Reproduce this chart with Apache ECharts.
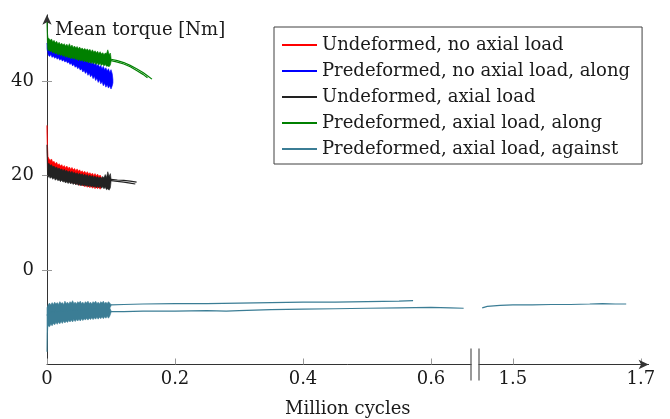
<!DOCTYPE html>
<html><head><meta charset="utf-8">
<script src="https://cdn.jsdelivr.net/npm/echarts@6/dist/echarts.min.js"></script>
<style>html,body{margin:0;padding:0;background:#fff}#c{width:670px;height:419px}</style>
</head><body><div id="c"></div>
<script>
// ---- data (x in million cycles, y in Nm) ----
const seriesNames = [
  'Undeformed, no axial load',
  'Predeformed, no axial load, along',
  'Undeformed, axial load',
  'Predeformed, axial load, along',
  'Predeformed, axial load, against'
];
const xTickValues = [0, 0.2, 0.4, 0.6, 1.5, 1.7];
const xTickLabels = ['0', '0.2', '0.4', '0.6', '1.5', '1.7'];
const yTickValues = [0, 20, 40];
const yTickLabels = ['0', '20', '40'];

// noisy early phase: upper / lower envelope of the oscillating signal
const redBandUpper = [[0,30.6],[0.0008,26.2],[0.0016,24.0],[0.003,23.6],[0.005,23.2],[0.007,23.5],[0.009,22.8],[0.011,23.0],[0.013,22.5],[0.015,22.8],[0.017,22.2],[0.019,22.5],[0.021,22.0],[0.023,22.3],[0.025,21.8],[0.027,22.1],[0.029,21.6],[0.031,22.0],[0.033,21.5],[0.035,21.8],[0.037,21.3],[0.039,21.7],[0.041,21.2],[0.043,21.5],[0.045,21.0],[0.047,21.4],[0.049,20.9],[0.051,21.2],[0.053,20.7],[0.055,21.0],[0.057,20.6],[0.059,20.9],[0.061,20.4],[0.063,20.8],[0.065,20.3],[0.067,20.6],[0.069,20.2],[0.071,20.5],[0.073,20.0],[0.075,20.4],[0.077,19.9],[0.079,20.3],[0.081,19.8],[0.083,20.1],[0.085,19.6],[0.086,19.2]];
const redBandLower = [[0,29.5],[0.0008,23.0],[0.0016,21.2],[0.003,20.6],[0.005,20.9],[0.007,20.3],[0.009,20.6],[0.011,20.0],[0.013,20.3],[0.015,19.7],[0.017,20.0],[0.019,19.4],[0.021,19.8],[0.023,19.2],[0.025,19.5],[0.027,19.0],[0.029,19.3],[0.031,18.8],[0.033,19.1],[0.035,18.6],[0.037,18.9],[0.039,18.4],[0.041,18.8],[0.043,18.3],[0.045,18.6],[0.047,18.1],[0.049,18.4],[0.051,17.9],[0.053,18.3],[0.055,17.8],[0.057,18.1],[0.059,17.6],[0.061,18.0],[0.063,17.5],[0.065,17.9],[0.067,17.4],[0.069,17.8],[0.071,17.3],[0.073,17.7],[0.075,17.2],[0.077,17.6],[0.079,17.2],[0.081,17.5],[0.083,17.1],[0.085,17.6],[0.086,18.0]];

const blueBandUpper = [[0,48.0],[0.002,47.2],[0.004,47.4],[0.006,46.9],[0.008,47.1],[0.010,46.6],[0.012,46.9],[0.014,46.4],[0.016,46.7],[0.018,46.2],[0.020,46.5],[0.022,46.0],[0.024,46.3],[0.026,45.8],[0.028,46.1],[0.030,45.6],[0.032,45.9],[0.034,45.4],[0.036,45.8],[0.038,45.2],[0.040,45.6],[0.042,45.0],[0.044,45.4],[0.046,44.8],[0.048,45.2],[0.050,44.6],[0.052,45.0],[0.054,44.4],[0.056,44.8],[0.058,44.2],[0.060,44.6],[0.062,44.0],[0.064,44.4],[0.066,43.8],[0.068,44.2],[0.070,43.6],[0.072,44.0],[0.074,43.4],[0.076,43.8],[0.078,43.1],[0.080,43.6],[0.082,42.9],[0.084,43.3],[0.086,42.6],[0.088,43.1],[0.090,42.4],[0.092,42.8],[0.094,42.1],[0.096,42.6],[0.098,41.8],[0.100,42.4],[0.102,41.5],[0.103,40.3]];
const blueBandLower = [[0,46.8],[0.002,45.5],[0.004,45.2],[0.006,45.6],[0.008,45.0],[0.010,45.3],[0.012,44.8],[0.014,45.1],[0.016,44.6],[0.018,44.9],[0.020,44.4],[0.022,44.7],[0.024,44.2],[0.026,44.5],[0.028,44.0],[0.030,44.3],[0.032,43.8],[0.034,44.0],[0.036,43.5],[0.038,43.8],[0.040,43.2],[0.042,43.5],[0.044,42.9],[0.046,43.2],[0.048,42.6],[0.050,42.9],[0.052,42.3],[0.054,42.6],[0.056,41.9],[0.058,42.3],[0.060,41.6],[0.062,42.0],[0.064,41.2],[0.066,41.7],[0.068,40.9],[0.070,41.3],[0.072,40.5],[0.074,41.0],[0.076,40.1],[0.078,40.6],[0.080,39.7],[0.082,40.3],[0.084,39.4],[0.086,39.9],[0.088,39.0],[0.090,39.5],[0.092,38.7],[0.094,39.2],[0.096,38.5],[0.098,39.0],[0.100,38.3],[0.102,39.0],[0.103,39.6]];

const blackBandUpper = [[0,26.5],[0.0008,23.5],[0.0016,22.4],[0.003,22.6],[0.005,22.1],[0.007,22.3],[0.009,21.8],[0.011,22.0],[0.013,21.6],[0.015,21.8],[0.017,21.4],[0.019,21.6],[0.021,21.2],[0.023,21.4],[0.025,21.0],[0.027,21.3],[0.029,20.9],[0.031,21.1],[0.033,20.7],[0.035,21.0],[0.037,20.6],[0.039,20.9],[0.041,20.5],[0.043,20.7],[0.045,20.3],[0.047,20.6],[0.049,20.2],[0.051,20.5],[0.053,20.1],[0.055,20.4],[0.057,20.0],[0.059,20.3],[0.061,19.9],[0.063,20.2],[0.065,19.8],[0.067,20.1],[0.069,19.7],[0.071,20.0],[0.073,19.6],[0.075,19.9],[0.077,19.5],[0.079,19.8],[0.081,19.4],[0.083,19.7],[0.085,19.4],[0.087,19.8],[0.089,19.5],[0.091,20.2],[0.093,19.6],[0.095,20.8],[0.097,19.8],[0.099,20.4],[0.1,19.4]];
const blackBandLower = [[0,25.0],[0.0008,20.5],[0.0016,19.6],[0.003,19.9],[0.005,19.4],[0.007,19.7],[0.009,19.2],[0.011,19.5],[0.013,19.0],[0.015,19.3],[0.017,18.9],[0.019,19.1],[0.021,18.7],[0.023,19.0],[0.025,18.6],[0.027,18.8],[0.029,18.4],[0.031,18.7],[0.033,18.3],[0.035,18.6],[0.037,18.2],[0.039,18.5],[0.041,18.1],[0.043,18.4],[0.045,18.0],[0.047,18.3],[0.049,17.9],[0.051,18.2],[0.053,17.8],[0.055,18.1],[0.057,17.8],[0.059,18.0],[0.061,17.7],[0.063,18.0],[0.065,17.6],[0.067,17.9],[0.069,17.6],[0.071,17.8],[0.073,17.5],[0.075,17.8],[0.077,17.4],[0.079,17.7],[0.081,17.4],[0.083,17.7],[0.085,17.3],[0.087,17.6],[0.089,17.2],[0.091,17.5],[0.093,17.0],[0.095,17.2],[0.097,16.9],[0.099,17.4],[0.1,18.6]];
const blackRunA = [[0.1,19.2],[0.11,19.05],[0.12,18.95],[0.13,18.8],[0.14,18.6]];
const blackRunB = [[0.1,18.9],[0.11,18.75],[0.12,18.6],[0.13,18.4],[0.138,18.2]];

const greenBandUpper = [[0,52.5],[0.0008,50.0],[0.0016,49.2],[0.003,49.0],[0.005,48.6],[0.007,48.9],[0.009,48.3],[0.011,48.6],[0.013,48.1],[0.015,48.4],[0.017,47.9],[0.019,48.2],[0.021,47.7],[0.023,48.0],[0.025,47.6],[0.027,47.9],[0.029,47.4],[0.031,47.8],[0.033,47.3],[0.035,47.9],[0.037,47.2],[0.039,47.6],[0.041,47.1],[0.043,47.4],[0.045,47.0],[0.047,47.3],[0.049,46.8],[0.051,47.2],[0.053,46.7],[0.055,47.0],[0.057,46.6],[0.059,46.9],[0.061,46.5],[0.063,46.8],[0.065,46.4],[0.067,46.7],[0.069,46.2],[0.071,46.6],[0.073,46.1],[0.075,46.4],[0.077,46.0],[0.079,46.3],[0.081,45.8],[0.083,46.2],[0.085,45.7],[0.087,46.0],[0.089,45.6],[0.091,45.9],[0.093,45.8],[0.095,46.6],[0.097,45.6],[0.099,45.9],[0.1,45.0]];
const greenBandLower = [[0,51.5],[0.0008,47.0],[0.0016,46.4],[0.003,46.6],[0.005,46.2],[0.007,46.4],[0.009,45.9],[0.011,46.2],[0.013,45.7],[0.015,46.0],[0.017,45.5],[0.019,45.8],[0.021,45.4],[0.023,45.6],[0.025,45.2],[0.027,45.5],[0.029,45.0],[0.031,45.3],[0.033,44.9],[0.035,45.1],[0.037,44.7],[0.039,45.0],[0.041,44.6],[0.043,44.9],[0.045,44.5],[0.047,44.7],[0.049,44.3],[0.051,44.6],[0.053,44.2],[0.055,44.5],[0.057,44.1],[0.059,44.3],[0.061,44.0],[0.063,44.2],[0.065,43.8],[0.067,44.1],[0.069,43.7],[0.071,44.0],[0.073,43.6],[0.075,43.9],[0.077,43.5],[0.079,43.8],[0.081,43.4],[0.083,43.7],[0.085,43.3],[0.087,43.6],[0.089,43.2],[0.091,43.5],[0.093,43.1],[0.095,43.2],[0.097,43.0],[0.099,43.4],[0.1,44.0]];
const greenRunA = [[0.1,44.6],[0.11,44.3],[0.12,43.9],[0.13,43.3],[0.14,42.6],[0.15,41.8],[0.158,41.0],[0.164,40.4]];
const greenRunB = [[0.1,44.3],[0.11,44.0],[0.12,43.6],[0.13,43.0],[0.14,42.2],[0.15,41.4],[0.157,40.7]];

const tealBand1Upper = [[0,-8.0],[0.002,-7.3],[0.004,-7.0],[0.006,-7.4],[0.008,-6.9],[0.010,-7.3],[0.012,-6.8],[0.014,-7.2],[0.016,-6.9],[0.018,-7.3],[0.020,-6.7],[0.022,-7.1],[0.024,-6.9],[0.026,-7.3],[0.028,-6.6],[0.030,-7.1],[0.032,-6.8],[0.034,-7.2],[0.036,-6.7],[0.038,-7.0],[0.040,-6.5],[0.042,-7.1],[0.044,-6.8],[0.046,-7.2],[0.048,-6.7],[0.050,-7.0],[0.052,-6.6],[0.054,-7.1],[0.056,-6.8],[0.058,-7.2],[0.060,-6.7],[0.062,-7.0],[0.064,-6.6],[0.066,-7.1],[0.068,-6.8],[0.070,-7.2],[0.072,-6.7],[0.074,-7.0],[0.076,-6.6],[0.078,-7.1],[0.080,-6.8],[0.082,-7.2],[0.084,-6.7],[0.086,-7.0],[0.088,-6.6],[0.090,-7.1],[0.092,-6.8],[0.094,-7.1],[0.096,-6.7],[0.098,-7.0],[0.1,-7.3]];
const tealBand1Lower = [[0,-9.6],[0.002,-9.3],[0.004,-9.6],[0.006,-9.2],[0.008,-9.5],[0.010,-9.1],[0.012,-9.4],[0.014,-9.0],[0.016,-9.4],[0.018,-9.1],[0.020,-9.3],[0.022,-8.9],[0.024,-9.3],[0.026,-9.0],[0.028,-9.2],[0.030,-8.8],[0.032,-9.2],[0.034,-8.9],[0.036,-9.1],[0.038,-8.8],[0.040,-9.1],[0.042,-8.7],[0.044,-9.0],[0.046,-8.8],[0.048,-9.0],[0.050,-8.6],[0.052,-8.9],[0.054,-8.7],[0.056,-8.9],[0.058,-8.5],[0.060,-8.8],[0.062,-8.6],[0.064,-8.8],[0.066,-8.4],[0.068,-8.7],[0.070,-8.5],[0.072,-8.7],[0.074,-8.4],[0.076,-8.6],[0.078,-8.3],[0.080,-8.6],[0.082,-8.4],[0.084,-8.5],[0.086,-8.2],[0.088,-8.5],[0.090,-8.3],[0.092,-8.4],[0.094,-8.2],[0.096,-8.4],[0.098,-8.1],[0.1,-7.6]];
const tealRunA = [[0.1,-7.4],[0.12,-7.3],[0.15,-7.2],[0.2,-7.1],[0.25,-7.1],[0.3,-7.0],[0.35,-6.9],[0.4,-6.8],[0.45,-6.8],[0.5,-6.7],[0.55,-6.6],[0.572,-6.5]];
const tealBand2Upper = [[0,-9.5],[0.002,-8.9],[0.004,-9.2],[0.006,-8.8],[0.008,-9.1],[0.010,-8.7],[0.012,-9.0],[0.014,-8.6],[0.016,-9.0],[0.018,-8.7],[0.020,-8.9],[0.022,-8.5],[0.024,-8.9],[0.026,-8.6],[0.028,-8.8],[0.030,-8.4],[0.032,-8.8],[0.034,-8.5],[0.036,-8.7],[0.038,-8.3],[0.040,-8.7],[0.042,-8.4],[0.044,-8.6],[0.046,-8.3],[0.048,-8.6],[0.050,-8.2],[0.052,-8.5],[0.054,-8.3],[0.056,-8.5],[0.058,-8.2],[0.060,-8.5],[0.062,-8.2],[0.064,-8.4],[0.066,-8.1],[0.068,-8.4],[0.070,-8.2],[0.072,-8.4],[0.074,-8.1],[0.076,-8.3],[0.078,-8.0],[0.080,-8.3],[0.082,-8.1],[0.084,-8.3],[0.086,-8.0],[0.088,-8.2],[0.090,-8.0],[0.092,-8.2],[0.094,-7.9],[0.096,-8.2],[0.098,-8.0],[0.1,-8.6]];
const tealBand2Lower = [[0,-17.3],[0.0006,-13.5],[0.0012,-12.2],[0.002,-11.8],[0.004,-12.0],[0.006,-11.5],[0.008,-11.8],[0.010,-11.3],[0.012,-11.6],[0.014,-11.1],[0.016,-11.5],[0.018,-11.0],[0.020,-11.4],[0.022,-10.9],[0.024,-11.3],[0.026,-10.8],[0.028,-11.2],[0.030,-10.8],[0.032,-11.1],[0.034,-10.7],[0.036,-11.0],[0.038,-10.6],[0.040,-11.0],[0.042,-10.5],[0.044,-10.9],[0.046,-10.5],[0.048,-10.8],[0.050,-10.4],[0.052,-10.8],[0.054,-10.3],[0.056,-10.7],[0.058,-10.3],[0.060,-10.6],[0.062,-10.2],[0.064,-10.6],[0.066,-10.2],[0.068,-10.5],[0.070,-10.1],[0.072,-10.5],[0.074,-10.1],[0.076,-10.4],[0.078,-10.0],[0.080,-10.4],[0.082,-10.0],[0.084,-10.3],[0.086,-9.9],[0.088,-10.3],[0.090,-9.9],[0.092,-10.2],[0.094,-9.8],[0.096,-10.2],[0.098,-9.8],[0.1,-9.0]];
const tealRunB = [[0.1,-8.8],[0.12,-8.8],[0.15,-8.7],[0.2,-8.7],[0.25,-8.6],[0.28,-8.7],[0.3,-8.6],[0.35,-8.4],[0.4,-8.3],[0.45,-8.2],[0.5,-8.1],[0.55,-8.0],[0.6,-7.9],[0.63,-8.0],[0.651,-8.1]];
const tealRunC = [[1.452,-8.0],[1.46,-7.7],[1.48,-7.5],[1.5,-7.4],[1.53,-7.4],[1.56,-7.3],[1.59,-7.3],[1.62,-7.2],[1.64,-7.1],[1.66,-7.2],[1.677,-7.2]];

// [legend entry, kind, data...]
const marks = [
  [0, 'band', redBandUpper, redBandLower],
  [1, 'band', blueBandUpper, blueBandLower],
  [2, 'band', blackBandUpper, blackBandLower],
  [2, 'line', blackRunA], [2, 'line', blackRunB],
  [3, 'band', greenBandUpper, greenBandLower],
  [3, 'line', greenRunA], [3, 'line', greenRunB],
  [4, 'band', tealBand1Upper, tealBand1Lower],
  [4, 'band', tealBand2Upper, tealBand2Lower],
  [4, 'line', tealRunA], [4, 'line', tealRunB], [4, 'line', tealRunC]
];

// ---- styling / layout ----
const colors = ['#ff0000', '#0000ff', '#222222', '#008000', '#3b7d95'];
const FONT = 'DejaVu Serif';
const FS = 18;
const TXT = '#1a1a1a';
// broken x axis: 0..BREAK_FROM, then BREAK_TO.. (shown after a small gap)
const BREAK_FROM = 0.6625, BREAK_TO = 1.447, BREAK_GAP = 0.0125;
function toPlot(x) { return x <= BREAK_FROM ? x : x - BREAK_TO + BREAK_FROM + BREAK_GAP; }
const xPlotTicks = xTickValues.map(toPlot);
const X_MAX = 0.94, Y_MIN = -20, Y_MAX = 54;

const chart = echarts.init(document.getElementById('c'), null, {renderer: 'canvas'});

const series = marks.map(([idx, kind, a, b]) => {
  const c = colors[idx];
  if (kind === 'line') {
    return {
      name: seriesNames[idx], type: 'line',
      data: a.map(p => [toPlot(p[0]), p[1]]),
      symbol: 'none', showSymbol: false, animation: false,
      lineStyle: {color: c, width: 1.2}, itemStyle: {color: c},
      emphasis: {disabled: true}
    };
  }
  const pts = a.concat(b.slice().reverse()).map(p => [toPlot(p[0]), p[1]]);
  return {
    name: seriesNames[idx], type: 'custom', coordinateSystem: 'cartesian2d',
    animation: false, itemStyle: {color: c},
    data: pts,
    encode: {x: 0, y: 1},
    renderItem: (params, api) => {
      if (params.dataIndex !== 0) return null;
      return {
        type: 'polygon',
        shape: {points: pts.map(p => api.coord(p))},
        style: {fill: c, stroke: c, lineWidth: 0.6}
      };
    }
  };
});

function labelFor(values, labels) {
  return v => {
    for (let i = 0; i < values.length; i++) if (Math.abs(values[i] - v) < 1e-6) return labels[i];
    return '';
  };
}

chart.setOption({
  backgroundColor: '#fff',
  animation: false,
  textStyle: {fontFamily: FONT},
  title: {
    text: 'Mean torque [Nm]', left: 50, top: 16,
    textStyle: {fontFamily: FONT, fontSize: FS, fontWeight: 'normal', color: TXT}
  },
  legend: {
    data: seriesNames, orient: 'vertical', left: 274, top: 27,
    padding: [9, 12, 6, 8], itemGap: 8, itemWidth: 35, itemHeight: 2,
    icon: 'rect',
    borderColor: '#404040', borderWidth: 1, backgroundColor: '#fff',
    textStyle: {fontFamily: FONT, fontSize: FS, color: TXT, lineHeight: 18},
    selectedMode: false
  },
  grid: {left: 47, top: 14.85, width: 640 * X_MAX, height: 349.65, containLabel: false, outerBoundsMode: 'none'},
  xAxis: {
    type: 'value', min: 0, max: X_MAX,
    name: 'Million cycles', nameLocation: 'middle', nameGap: 36,
    nameTextStyle: {fontFamily: FONT, fontSize: FS, color: TXT},
    axisLine: {show: true, onZero: false, lineStyle: {color: '#333', width: 1}, symbol: ['none', 'arrow'], symbolSize: [7, 10]},
    axisTick: {show: true, inside: true, length: 6, customValues: xPlotTicks, lineStyle: {color: '#999'}},
    axisLabel: {show: true, margin: 6, customValues: xPlotTicks, formatter: labelFor(xPlotTicks, xTickLabels),
      fontFamily: FONT, fontSize: FS, color: TXT},
    splitLine: {show: false}
  },
  yAxis: [{
    type: 'value', min: Y_MIN, max: Y_MAX,
    axisLine: {show: true, onZero: false, lineStyle: {color: '#333', width: 1}, symbol: ['none', 'arrow'], symbolSize: [7, 10]},
    axisTick: {show: true, inside: false, length: 5, customValues: yTickValues, lineStyle: {color: '#999'}},
    axisLabel: {show: true, margin: 13, customValues: yTickValues, formatter: labelFor(yTickValues, yTickLabels),
      fontFamily: FONT, fontSize: FS, color: TXT},
    splitLine: {show: false}
  }, {
    type: 'value', min: Y_MIN, max: Y_MAX, position: 'left',
    axisLine: {show: false},
    axisTick: {show: true, inside: true, length: 5, customValues: yTickValues, lineStyle: {color: '#999'}},
    axisLabel: {show: false},
    splitLine: {show: false}
  }],
  series: series
});

// axis-break marks placed through the axis scales
const xa = chart.convertToPixel({xAxisIndex: 0}, BREAK_FROM);
const xb = chart.convertToPixel({xAxisIndex: 0}, BREAK_FROM + BREAK_GAP);
const ya = chart.convertToPixel({yAxisIndex: 0}, Y_MIN);
chart.setOption({
  graphic: [
    {type: 'rect', z: 100, shape: {x: xa + 0.5, y: ya - 2, width: xb - xa - 1, height: 4}, style: {fill: '#fff'}},
    {type: 'line', z: 101, shape: {x1: xa, y1: ya - 16, x2: xa, y2: ya + 16}, style: {stroke: '#555', lineWidth: 1.2}},
    {type: 'line', z: 101, shape: {x1: xb, y1: ya - 16, x2: xb, y2: ya + 16}, style: {stroke: '#555', lineWidth: 1.2}}
  ]
});
</script></body></html>
